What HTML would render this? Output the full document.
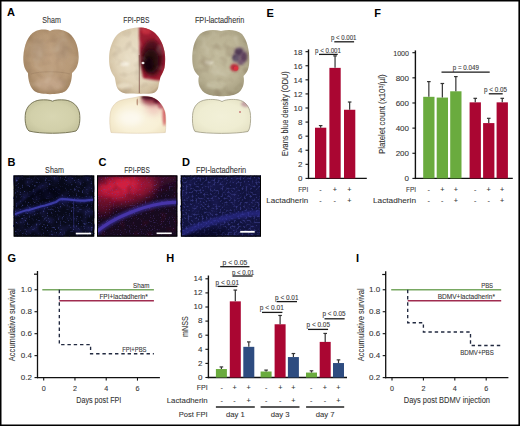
<!DOCTYPE html>
<html><head><meta charset="utf-8"><style>
html,body{margin:0;padding:0;background:#fff;overflow:hidden;width:520px;height:426px;}
svg{display:block;font-family:"Liberation Sans", sans-serif;}
</style></head><body>
<svg width="520" height="426" viewBox="0 0 520 426">
<defs><filter id="blur05" x="-100%" y="-100%" width="300%" height="300%"><feGaussianBlur stdDeviation="0.5"/></filter><filter id="blur1" x="-100%" y="-100%" width="300%" height="300%"><feGaussianBlur stdDeviation="1"/></filter><filter id="blur2" x="-100%" y="-100%" width="300%" height="300%"><feGaussianBlur stdDeviation="2"/></filter><filter id="blur3" x="-100%" y="-100%" width="300%" height="300%"><feGaussianBlur stdDeviation="3"/></filter><filter id="blur5" x="-100%" y="-100%" width="300%" height="300%"><feGaussianBlur stdDeviation="5"/></filter><filter id="texD" x="0" y="0" width="100%" height="100%" color-interpolation-filters="sRGB"><feTurbulence type="fractalNoise" baseFrequency="0.09" numOctaves="2" seed="21"/><feColorMatrix type="matrix" values="0 0 0 0 0.35 0 0 0 0 0.25 0 0 0 0 0.18 1.6 0 0 0 -0.82"/></filter><filter id="texL" x="0" y="0" width="100%" height="100%" color-interpolation-filters="sRGB"><feTurbulence type="fractalNoise" baseFrequency="0.09" numOctaves="2" seed="21"/><feColorMatrix type="matrix" values="0 0 0 0 1 0 0 0 0 1 0 0 0 0 0.95 -1.6 0 0 0 0.72"/></filter><radialGradient id="gsb" cx="0.5" cy="0.45" r="0.62"><stop offset="0" stop-color="#c0a282"/><stop offset="0.6" stop-color="#b89a78"/><stop offset="0.9" stop-color="#a48664"/><stop offset="1" stop-color="#8a6c50"/></radialGradient><clipPath id="csb"><path d="M50,31 C46,29 40,29 35,31.5 C28,35 24,45 23.3,57 C23,65 25,70 28,73 C28,80 30,88 35,91.5 C41,95 59,95 65,91.5 C70,88 72,80 72,73 C76,70 78.6,65 78.7,57 C78.5,45 74,35 66,31.5 C60,29 54,29 50,31 Z"/></clipPath><radialGradient id="gss" cx="0.5" cy="0.5" r="0.65"><stop offset="0" stop-color="#d8d6b2"/><stop offset="0.6" stop-color="#d2d0aa"/><stop offset="0.9" stop-color="#c4c29c"/><stop offset="1" stop-color="#aaa884"/></radialGradient><clipPath id="css"><path d="M52.5,101.2 C50,99.8 45,99.6 40,100 C32,101 27,106 25.5,113 C24.5,120 25.5,128 29,131 C40,134 65,134 76,131 C79.5,128 80.5,120 79.5,113 C78,106 73,101 65,100 C60,99.6 55,99.8 52.5,101.2 Z"/></clipPath><radialGradient id="gpb" cx="0.5" cy="0.45" r="0.62"><stop offset="0" stop-color="#ebe1ca"/><stop offset="0.6" stop-color="#e2d5ba"/><stop offset="0.9" stop-color="#cebc9c"/><stop offset="1" stop-color="#ae9676"/></radialGradient><clipPath id="cpb"><path d="M139.5,27.5 C134,27.5 125,29 119.2,33 C115,36 112,42 110,49.4 C108.8,54 108.8,63 110,67.7 C111,72 113,75 114.6,77 C115.5,80 115.8,84 116.5,86 C118,91 122,93.3 128,93.6 C135,94 145,94 151,93.6 C156,93 158,90 158.5,86 C159,83 159.8,80 160.4,77 C162,74 164,70 164.5,67.7 C165.5,62 165.5,54 164,49.4 C162.5,43 160,38 155,33 C151,29.5 145,27.5 139.5,27.5 Z"/></clipPath><radialGradient id="gps" cx="0.5" cy="0.6" r="0.65"><stop offset="0" stop-color="#faf4e0"/><stop offset="0.6" stop-color="#f8f0d6"/><stop offset="0.9" stop-color="#f0e4c4"/><stop offset="1" stop-color="#dccca8"/></radialGradient><clipPath id="cps"><path d="M111,132.5 C109.5,126 109.5,119 110.2,114 C111,108 114,103.5 119,101 C124,99 130,98.5 135,97.5 C140,96 146,95.8 151,97 C158,99 163,105 165,112 C166.3,118 166,126 165.3,132.5 C150,133.5 125,133.5 111,132.5 Z"/></clipPath><radialGradient id="glb" cx="0.5" cy="0.45" r="0.62"><stop offset="0" stop-color="#c4bd9f"/><stop offset="0.6" stop-color="#bab294"/><stop offset="0.9" stop-color="#a69e80"/><stop offset="1" stop-color="#867e62"/></radialGradient><clipPath id="clb"><path d="M221,31 C214,29 205,29.5 200,34 C194,40 192,50 192.3,60 C192.5,68 195,73 199,76 C197,83 200,91 207,94 C213,97 230,97 236,94 C243,91 245,83 243.5,76 C247,73 249.5,68 249.3,60 C249.5,50 247,40 242,34 C237,29.5 228,29 221,31 Z"/></clipPath><radialGradient id="gls" cx="0.5" cy="0.5" r="0.65"><stop offset="0" stop-color="#f2f0d8"/><stop offset="0.6" stop-color="#efedd2"/><stop offset="0.9" stop-color="#e6e3c6"/><stop offset="1" stop-color="#d0ccb0"/></radialGradient><clipPath id="cls"><path d="M222,101.6 C219,99.5 212,99 206,99.8 C198,101 194,106 192.8,113 C192,120 192.5,128 195,131.5 C207,134 236,134 248,131.5 C250.5,128 251,120 250.3,113 C249,106 245,101 238,99.8 C232,99 225,99.5 222,101.6 Z"/></clipPath><clipPath id="cB"><rect x="13.7" y="175.5" width="80.5" height="61.1"/></clipPath><filter id="nB" x="0" y="0" width="100%" height="100%" color-interpolation-filters="sRGB"><feTurbulence type="fractalNoise" baseFrequency="0.55" numOctaves="2" seed="3"/><feColorMatrix type="matrix" values="0 0 0 0 0.22 0 0 0 0 0.24 0 0 0 0 0.5 4 0 0 0 -2.4"/></filter><filter id="nB2" x="0" y="0" width="100%" height="100%" color-interpolation-filters="sRGB"><feTurbulence type="fractalNoise" baseFrequency="0.12" numOctaves="1" seed="5"/><feColorMatrix type="matrix" values="0 0 0 0 0.12 0 0 0 0 0.12 0 0 0 0 0.35 2 0 0 0 -0.9"/></filter><clipPath id="cC"><rect x="97.0" y="175.5" width="80.3" height="61.1"/></clipPath><filter id="nC" x="0" y="0" width="100%" height="100%" color-interpolation-filters="sRGB"><feTurbulence type="fractalNoise" baseFrequency="0.75" numOctaves="2" seed="9"/><feColorMatrix type="matrix" values="0 0 0 0 0.4 0 0 0 0 0.3 0 0 0 0 0.7 5 0 0 0 -3.0"/></filter><filter id="nC2" x="0" y="0" width="100%" height="100%" color-interpolation-filters="sRGB"><feTurbulence type="fractalNoise" baseFrequency="0.15" numOctaves="1" seed="4"/><feColorMatrix type="matrix" values="0 0 0 0 0.3 0 0 0 0 0.02 0 0 0 0 0.1 1.0 0 0 0 -0.5"/></filter><clipPath id="cD"><rect x="180.9" y="175.5" width="80.1" height="61.1"/></clipPath><filter id="nD" x="0" y="0" width="100%" height="100%" color-interpolation-filters="sRGB"><feTurbulence type="fractalNoise" baseFrequency="0.5" numOctaves="2" seed="11"/><feColorMatrix type="matrix" values="0 0 0 0 0.19 0 0 0 0 0.2 0 0 0 0 0.47 4 0 0 0 -1.95"/></filter><filter id="nD2" x="0" y="0" width="100%" height="100%" color-interpolation-filters="sRGB"><feTurbulence type="fractalNoise" baseFrequency="0.1" numOctaves="1" seed="2"/><feColorMatrix type="matrix" values="0 0 0 0 0.1 0 0 0 0 0.1 0 0 0 0 0.32 2 0 0 0 -0.8"/></filter></defs>
<rect x="0" y="0" width="520" height="426" fill="#fff"/>
<text x="7" y="16.3" font-size="11" text-anchor="start" fill="#000" font-weight="bold">A</text>
<text x="51.6" y="22.7" font-size="8.4" text-anchor="middle" fill="#333" font-weight="normal" textLength="18.6" lengthAdjust="spacingAndGlyphs" stroke="#333" stroke-width="0.08">Sham</text>
<text x="136.35" y="22.7" font-size="8.4" text-anchor="middle" fill="#333" font-weight="normal" textLength="26.1" lengthAdjust="spacingAndGlyphs" stroke="#333" stroke-width="0.08">FPI-PBS</text>
<text x="219.6" y="22.7" font-size="8.4" text-anchor="middle" fill="#333" font-weight="normal" textLength="49.4" lengthAdjust="spacingAndGlyphs" stroke="#333" stroke-width="0.08">FPI-lactadherin</text>
<path d="M50,31 C46,29 40,29 35,31.5 C28,35 24,45 23.3,57 C23,65 25,70 28,73 C28,80 30,88 35,91.5 C41,95 59,95 65,91.5 C70,88 72,80 72,73 C76,70 78.6,65 78.7,57 C78.5,45 74,35 66,31.5 C60,29 54,29 50,31 Z" fill="url(#gsb)" filter="url(#blur05)"/>
<g clip-path="url(#csb)">
<ellipse cx="50" cy="84" rx="15" ry="7" fill="#c8aa90" opacity="0.7" filter="url(#blur2)"/>
<ellipse cx="38" cy="50" rx="8" ry="12" fill="#a89078" opacity="0.4" filter="url(#blur2)"/>
<ellipse cx="62" cy="48" rx="8" ry="12" fill="#a89078" opacity="0.4" filter="url(#blur2)"/>
<line x1="49.8" y1="30" x2="49.8" y2="72" stroke="#7e624a" stroke-width="1.1" opacity="0.6" filter="url(#blur05)"/>
<path d="M31,74 C40,71 60,71 70,74" stroke="#8e7258" stroke-width="1" fill="none" opacity="0.3" filter="url(#blur05)"/>
</g>
<g clip-path="url(#csb)" opacity="0.25"><rect x="20" y="26" width="62" height="72" fill="#000" filter="url(#texD)"/><rect x="20" y="26" width="62" height="72" fill="#000" filter="url(#texL)"/></g>
<path d="M52.5,101.2 C50,99.8 45,99.6 40,100 C32,101 27,106 25.5,113 C24.5,120 25.5,128 29,131 C40,134 65,134 76,131 C79.5,128 80.5,120 79.5,113 C78,106 73,101 65,100 C60,99.6 55,99.8 52.5,101.2 Z" fill="url(#gss)" stroke="#6e6c4c" stroke-width="0.9" filter="url(#blur05)"/>
<path d="M139.5,27.5 C134,27.5 125,29 119.2,33 C115,36 112,42 110,49.4 C108.8,54 108.8,63 110,67.7 C111,72 113,75 114.6,77 C115.5,80 115.8,84 116.5,86 C118,91 122,93.3 128,93.6 C135,94 145,94 151,93.6 C156,93 158,90 158.5,86 C159,83 159.8,80 160.4,77 C162,74 164,70 164.5,67.7 C165.5,62 165.5,54 164,49.4 C162.5,43 160,38 155,33 C151,29.5 145,27.5 139.5,27.5 Z" fill="url(#gpb)" filter="url(#blur05)"/>
<g clip-path="url(#cpb)">
<path d="M139,26 C150,25 162,33 166,48 L167,80 C160,81 150,80 143,78 C140,62 139,42 139,26 Z" fill="#a01c30" filter="url(#blur1)"/>
<ellipse cx="152" cy="58" rx="11" ry="18" fill="#4a0e1a" opacity="0.95" filter="url(#blur2)"/>
<ellipse cx="151" cy="61" rx="8" ry="12" fill="#260810" opacity="1" filter="url(#blur2)"/>
<ellipse cx="149" cy="64" rx="5" ry="7" fill="#180408" opacity="0.9" filter="url(#blur1)"/>
<ellipse cx="146" cy="31" rx="5" ry="3.5" fill="#c83040" opacity="0.8" filter="url(#blur1)"/>
<line x1="139.3" y1="55" x2="139.3" y2="93" stroke="#5a2020" stroke-width="0.8" opacity="0.7"/>
<ellipse cx="125" cy="64" rx="4.5" ry="2.2" fill="#fffcf4" opacity="0.6" filter="url(#blur1)"/>
<ellipse cx="143" cy="63" rx="1.5" ry="1.2" fill="#ffffff" opacity="0.9" filter="url(#blur05)"/>
<ellipse cx="125" cy="86" rx="8" ry="3" fill="#f0e6d0" opacity="0.6" filter="url(#blur1)"/>
</g>
<g clip-path="url(#cpb)" opacity="0.25"><rect x="106" y="25" width="62" height="72" fill="#000" filter="url(#texD)"/><rect x="106" y="25" width="62" height="72" fill="#000" filter="url(#texL)"/></g>
<path d="M111,132.5 C109.5,126 109.5,119 110.2,114 C111,108 114,103.5 119,101 C124,99 130,98.5 135,97.5 C140,96 146,95.8 151,97 C158,99 163,105 165,112 C166.3,118 166,126 165.3,132.5 C150,133.5 125,133.5 111,132.5 Z" fill="url(#gps)" stroke="#d8c4a4" stroke-width="0.5" filter="url(#blur05)"/>
<g clip-path="url(#cps)">
<ellipse cx="154" cy="106" rx="9" ry="9" fill="#e8a8a8" opacity="0.5" filter="url(#blur3)"/>
<ellipse cx="152" cy="100" rx="11" ry="5" fill="#8a2038" opacity="0.8" filter="url(#blur2)"/>
<ellipse cx="149" cy="97" rx="8" ry="2.8" fill="#4a0c24" opacity="0.95" filter="url(#blur1)"/>
<ellipse cx="158" cy="100" rx="5" ry="3.5" fill="#5a1028" opacity="0.9" filter="url(#blur1)"/>
<ellipse cx="164.5" cy="114" rx="2" ry="12" fill="#c83040" opacity="0.7" filter="url(#blur1)"/>
<ellipse cx="161" cy="104" rx="3.5" ry="5" fill="#a02040" opacity="0.6" filter="url(#blur1)"/>
<ellipse cx="137.3" cy="102" rx="0.8" ry="3.5" fill="#8a4a30" opacity="0.5" filter="url(#blur05)"/>
<ellipse cx="130" cy="118" rx="12" ry="8" fill="#ffffff" opacity="0.5" filter="url(#blur3)"/>
</g>
<path d="M221,31 C214,29 205,29.5 200,34 C194,40 192,50 192.3,60 C192.5,68 195,73 199,76 C197,83 200,91 207,94 C213,97 230,97 236,94 C243,91 245,83 243.5,76 C247,73 249.5,68 249.3,60 C249.5,50 247,40 242,34 C237,29.5 228,29 221,31 Z" fill="url(#glb)" filter="url(#blur05)"/>
<g clip-path="url(#clb)">
<ellipse cx="240" cy="56" rx="7" ry="8" fill="#6a5068" opacity="0.7" filter="url(#blur2)"/>
<ellipse cx="239" cy="52" rx="4" ry="4" fill="#4a3050" opacity="0.9" filter="url(#blur1)"/>
<ellipse cx="243.5" cy="57" rx="3.5" ry="5" fill="#5a3a5a" opacity="0.85" filter="url(#blur1)"/>
<ellipse cx="236" cy="58" rx="3.5" ry="3.5" fill="#3a2848" opacity="0.85" filter="url(#blur1)"/>
<ellipse cx="241" cy="62" rx="3" ry="3" fill="#6a4a68" opacity="0.8" filter="url(#blur1)"/>
<ellipse cx="234.5" cy="67.5" rx="4.2" ry="3.8" fill="#b82838" opacity="0.95" filter="url(#blur1)"/>
<ellipse cx="236" cy="68.5" rx="2.2" ry="2.2" fill="#e03040" opacity="0.9" filter="url(#blur05)"/>
<line x1="221" y1="31" x2="221" y2="95" stroke="#8a8468" stroke-width="0.8" opacity="0.6" filter="url(#blur05)"/>
<ellipse cx="209" cy="62.5" rx="4.5" ry="2" fill="#f4f0e0" opacity="0.55" filter="url(#blur1)"/>
<ellipse cx="216" cy="85" rx="10" ry="4" fill="#c8c2a6" opacity="0.6" filter="url(#blur1)"/>
</g>
<g clip-path="url(#clb)" opacity="0.35"><rect x="189" y="26" width="64" height="72" fill="#000" filter="url(#texD)"/><rect x="189" y="26" width="64" height="72" fill="#000" filter="url(#texL)"/></g>
<path d="M222,101.6 C219,99.5 212,99 206,99.8 C198,101 194,106 192.8,113 C192,120 192.5,128 195,131.5 C207,134 236,134 248,131.5 C250.5,128 251,120 250.3,113 C249,106 245,101 238,99.8 C232,99 225,99.5 222,101.6 Z" fill="url(#gls)" stroke="#a09c84" stroke-width="0.8" filter="url(#blur05)"/>
<g clip-path="url(#cls)">
<ellipse cx="246" cy="104" rx="5" ry="3" fill="#a06080" opacity="0.5" filter="url(#blur1)"/>
<ellipse cx="240" cy="112" rx="1" ry="1" fill="#b03040" opacity="0.6" filter="url(#blur05)"/>
</g>
<text x="7.5" y="165.5" font-size="11" text-anchor="start" fill="#000" font-weight="bold">B</text>
<text x="98.5" y="165.5" font-size="11" text-anchor="start" fill="#000" font-weight="bold">C</text>
<text x="182" y="165.5" font-size="11" text-anchor="start" fill="#000" font-weight="bold">D</text>
<text x="54.5" y="172.5" font-size="8.4" text-anchor="middle" fill="#333" font-weight="normal" textLength="18.8" lengthAdjust="spacingAndGlyphs" stroke="#333" stroke-width="0.08">Sham</text>
<text x="137.05" y="172.5" font-size="8.4" text-anchor="middle" fill="#333" font-weight="normal" textLength="25.6" lengthAdjust="spacingAndGlyphs" stroke="#333" stroke-width="0.08">FPI-PBS</text>
<text x="221.05" y="172.5" font-size="8.4" text-anchor="middle" fill="#333" font-weight="normal" textLength="50.3" lengthAdjust="spacingAndGlyphs" stroke="#333" stroke-width="0.08">FPI-lactadherin</text>
<rect x="13.7" y="175.5" width="80.5" height="61.1" fill="#080a1a"/>
<rect x="13.7" y="175.5" width="80.5" height="61.1" fill="#000" filter="url(#nB2)"/>
<rect x="13.7" y="175.5" width="80.5" height="61.1" fill="#000" filter="url(#nB)"/>
<g clip-path="url(#cB)">
<path d="M13,215 C20,212 25,210.5 29,210 C35,208.5 40,206.5 45,205.5 C50,204 53,203 56,202 C58,200.5 59,199.5 61,199.2 C66,199 70,199.6 73,200 C77,200.6 80,201 84,200.6 C88,200.2 91,199.8 95,199.6" stroke="#282890" stroke-width="5" fill="none" opacity="0.5" filter="url(#blur1)"/>
<path d="M13,215 C20,212 25,210.5 29,210 C35,208.5 40,206.5 45,205.5 C50,204 53,203 56,202 C58,200.5 59,199.5 61,199.2 C66,199 70,199.6 73,200 C77,200.6 80,201 84,200.6 C88,200.2 91,199.8 95,199.6" stroke="#3c3ca8" stroke-width="2.2" fill="none" filter="url(#blur05)"/>
<path d="M16,205 C25,198 32,192 42,186" stroke="#303090" stroke-width="2" fill="none" opacity="0.4" filter="url(#blur1)"/>
<ellipse cx="45" cy="194" rx="18" ry="6" fill="#000008" opacity="0.6" filter="url(#blur3)" transform="rotate(-10 45 194)"/>
<path d="M73.5,201 C74,208 73,216 74,228" stroke="#34348a" stroke-width="1.2" fill="none" opacity="0.5" filter="url(#blur05)"/>
</g>
<rect x="75.8" y="232.7" width="15.4" height="1.7" fill="#fff"/>
<rect x="14.2" y="176.0" width="79.5" height="60.1" fill="none" stroke="#000" stroke-width="1"/>
<rect x="97.0" y="175.5" width="80.3" height="61.1" fill="#170a1e"/>
<g clip-path="url(#cC)">
<path d="M95,222 C100,205 115,195 135,192 C150,190 165,186 182,178 L182,172 L95,172 Z" fill="#3a0c2c" filter="url(#blur3)"/>
<ellipse cx="124" cy="189" rx="33" ry="15" fill="#a01434" opacity="0.95" filter="url(#blur5)" transform="rotate(-10 124 189)"/>
<ellipse cx="119" cy="187" rx="21" ry="9" fill="#cc1c3c" opacity="0.9" filter="url(#blur3)" transform="rotate(-10 119 187)"/>
<ellipse cx="124" cy="184" rx="12" ry="5" fill="#e02844" opacity="0.5" filter="url(#blur3)" transform="rotate(-12 124 184)"/>
<ellipse cx="104" cy="206" rx="8" ry="9" fill="#6a0c28" opacity="0.7" filter="url(#blur3)"/>
</g>
<rect x="97.0" y="175.5" width="80.3" height="61.1" fill="#000" filter="url(#nC2)"/>
<rect x="97.0" y="175.5" width="80.3" height="61.1" fill="#000" filter="url(#nC)" opacity="0.45"/>
<g clip-path="url(#cC)">
<path d="M95,233 C102,227 112,220 128,213.5 C140,208.5 152,205 162,203.5 C168,202.5 173,202.5 179,202" stroke="#3a30a0" stroke-width="7" fill="none" opacity="0.6" filter="url(#blur1)"/>
<path d="M95,233 C102,227 112,220 128,213.5 C140,208.5 152,205 162,203.5 C168,202.5 173,202.5 179,202" stroke="#4634a8" stroke-width="3.2" fill="none" filter="url(#blur05)"/>
</g>
<rect x="156.6" y="232.5" width="15.1" height="1.6" fill="#fff"/>
<rect x="97.5" y="176.0" width="79.3" height="60.1" fill="none" stroke="#000" stroke-width="1"/>
<rect x="180.9" y="175.5" width="80.1" height="61.1" fill="#10123c"/>
<rect x="180.9" y="175.5" width="80.1" height="61.1" fill="#000" filter="url(#nD2)"/>
<rect x="180.9" y="175.5" width="80.1" height="61.1" fill="#000" filter="url(#nD)"/>
<g clip-path="url(#cD)">
<ellipse cx="205" cy="234" rx="22" ry="4" fill="#040418" opacity="0.6" filter="url(#blur2)" transform="rotate(-8 205 234)"/>
<path d="M182,233.5 C195,227 205,223 226,218 C238,215 248,213 262,213" stroke="#3030a0" stroke-width="6" fill="none" opacity="0.55" filter="url(#blur1)"/>
</g>
<rect x="181.4" y="176.0" width="79.1" height="60.1" fill="none" stroke="#000" stroke-width="1"/>
<rect x="240.2" y="230.9" width="14.5" height="1.8" fill="#fff"/>
<text x="266.5" y="16.8" font-size="11" text-anchor="start" fill="#000" font-weight="bold">E</text>
<line x1="308.5" y1="49.4" x2="308.5" y2="179.1" stroke="#111" stroke-width="1.4"/>
<line x1="307.9" y1="178.4" x2="366.8" y2="178.4" stroke="#111" stroke-width="1.3"/>
<line x1="305.5" y1="178.4" x2="308.5" y2="178.4" stroke="#111" stroke-width="1.1"/>
<text x="302.4" y="181.3" font-size="8.0" text-anchor="end" fill="#333" font-weight="normal" stroke="#333" stroke-width="0.08">0</text>
<line x1="305.5" y1="164.32" x2="308.5" y2="164.32" stroke="#111" stroke-width="1.1"/>
<text x="302.4" y="167.22" font-size="8.0" text-anchor="end" fill="#333" font-weight="normal" stroke="#333" stroke-width="0.08">2</text>
<line x1="305.5" y1="150.24" x2="308.5" y2="150.24" stroke="#111" stroke-width="1.1"/>
<text x="302.4" y="153.14000000000001" font-size="8.0" text-anchor="end" fill="#333" font-weight="normal" stroke="#333" stroke-width="0.08">4</text>
<line x1="305.5" y1="136.16" x2="308.5" y2="136.16" stroke="#111" stroke-width="1.1"/>
<text x="302.4" y="139.06" font-size="8.0" text-anchor="end" fill="#333" font-weight="normal" stroke="#333" stroke-width="0.08">6</text>
<line x1="305.5" y1="122.08000000000001" x2="308.5" y2="122.08000000000001" stroke="#111" stroke-width="1.1"/>
<text x="302.4" y="124.98000000000002" font-size="8.0" text-anchor="end" fill="#333" font-weight="normal" stroke="#333" stroke-width="0.08">8</text>
<line x1="305.5" y1="108.0" x2="308.5" y2="108.0" stroke="#111" stroke-width="1.1"/>
<text x="302.4" y="110.9" font-size="8.0" text-anchor="end" fill="#333" font-weight="normal" stroke="#333" stroke-width="0.08">10</text>
<line x1="305.5" y1="93.92" x2="308.5" y2="93.92" stroke="#111" stroke-width="1.1"/>
<text x="302.4" y="96.82000000000001" font-size="8.0" text-anchor="end" fill="#333" font-weight="normal" stroke="#333" stroke-width="0.08">12</text>
<line x1="305.5" y1="79.84" x2="308.5" y2="79.84" stroke="#111" stroke-width="1.1"/>
<text x="302.4" y="82.74000000000001" font-size="8.0" text-anchor="end" fill="#333" font-weight="normal" stroke="#333" stroke-width="0.08">14</text>
<line x1="305.5" y1="65.76" x2="308.5" y2="65.76" stroke="#111" stroke-width="1.1"/>
<text x="302.4" y="68.66000000000001" font-size="8.0" text-anchor="end" fill="#333" font-weight="normal" stroke="#333" stroke-width="0.08">16</text>
<line x1="305.5" y1="51.68000000000001" x2="308.5" y2="51.68000000000001" stroke="#111" stroke-width="1.1"/>
<text x="302.4" y="54.580000000000005" font-size="8.0" text-anchor="end" fill="#333" font-weight="normal" stroke="#333" stroke-width="0.08">18</text>
<rect x="315.0" y="127.712" width="11.3" height="50.688" fill="#aa0632"/>
<line x1="320.65" y1="127.712" x2="320.65" y2="125.60000000000001" stroke="#333" stroke-width="1.2"/>
<line x1="318.84999999999997" y1="125.60000000000001" x2="322.45" y2="125.60000000000001" stroke="#333" stroke-width="1.2"/>
<rect x="329.4" y="67.87200000000001" width="11.3" height="110.52799999999999" fill="#aa0632"/>
<line x1="335.04999999999995" y1="67.87200000000001" x2="335.04999999999995" y2="55.90400000000001" stroke="#333" stroke-width="1.2"/>
<line x1="333.24999999999994" y1="55.90400000000001" x2="336.84999999999997" y2="55.90400000000001" stroke="#333" stroke-width="1.2"/>
<rect x="344.0" y="109.76" width="11.3" height="68.64" fill="#aa0632"/>
<line x1="349.65" y1="109.76" x2="349.65" y2="102.016" stroke="#333" stroke-width="1.2"/>
<line x1="347.84999999999997" y1="102.016" x2="351.45" y2="102.016" stroke="#333" stroke-width="1.2"/>
<text x="343.75" y="40.3" font-size="6.4" text-anchor="middle" fill="#3a3a3a" font-weight="normal" textLength="25.5" lengthAdjust="spacingAndGlyphs" stroke="#3a3a3a" stroke-width="0.1">p &lt; 0.001</text>
<line x1="334.3" y1="41.8" x2="354.1" y2="41.8" stroke="#1a1a1a" stroke-width="1.3"/>
<text x="328.0" y="53.3" font-size="6.4" text-anchor="middle" fill="#3a3a3a" font-weight="normal" textLength="26" lengthAdjust="spacingAndGlyphs" stroke="#3a3a3a" stroke-width="0.1">p &lt; 0.001</text>
<line x1="319" y1="54.4" x2="337.7" y2="54.4" stroke="#1a1a1a" stroke-width="1.3"/>
<text x="308.2" y="191.5" font-size="7.8" text-anchor="end" fill="#333" font-weight="normal" textLength="10" lengthAdjust="spacingAndGlyphs" stroke="#333" stroke-width="0.08">FPI</text>
<text x="308.2" y="203.2" font-size="7.8" text-anchor="end" fill="#333" font-weight="normal" textLength="41.9" lengthAdjust="spacingAndGlyphs" stroke="#333" stroke-width="0.08">Lactadherin</text>
<text x="320.4" y="191.5" font-size="7.2" text-anchor="middle" fill="#333" font-weight="normal" stroke="#333" stroke-width="0.08">-</text>
<text x="320.4" y="203.2" font-size="7.2" text-anchor="middle" fill="#333" font-weight="normal" stroke="#333" stroke-width="0.08">-</text>
<text x="334.8" y="191.5" font-size="7.2" text-anchor="middle" fill="#333" font-weight="normal" stroke="#333" stroke-width="0.08">+</text>
<text x="334.8" y="203.2" font-size="7.2" text-anchor="middle" fill="#333" font-weight="normal" stroke="#333" stroke-width="0.08">-</text>
<text x="349.4" y="191.5" font-size="7.2" text-anchor="middle" fill="#333" font-weight="normal" stroke="#333" stroke-width="0.08">+</text>
<text x="349.4" y="203.2" font-size="7.2" text-anchor="middle" fill="#333" font-weight="normal" stroke="#333" stroke-width="0.08">+</text>
<text x="0" y="0" font-size="8.2" text-anchor="middle" fill="#333" stroke="#333" stroke-width="0.08" textLength="84.8" lengthAdjust="spacingAndGlyphs" transform="translate(288,113.6) rotate(-90)">Evans blue density (ODU)</text>
<text x="374.3" y="16.7" font-size="11" text-anchor="start" fill="#000" font-weight="bold">F</text>
<line x1="415.4" y1="50.4" x2="415.4" y2="179.1" stroke="#111" stroke-width="1.4"/>
<line x1="414.79999999999995" y1="178.4" x2="512.8" y2="178.4" stroke="#111" stroke-width="1.3"/>
<line x1="412.4" y1="178.4" x2="415.4" y2="178.4" stroke="#111" stroke-width="1.1"/>
<text x="409.0" y="181.3" font-size="8.0" text-anchor="end" fill="#333" font-weight="normal" stroke="#333" stroke-width="0.08">0</text>
<line x1="412.4" y1="153.26" x2="415.4" y2="153.26" stroke="#111" stroke-width="1.1"/>
<text x="409.0" y="156.16" font-size="8.0" text-anchor="end" fill="#333" font-weight="normal" stroke="#333" stroke-width="0.08">200</text>
<line x1="412.4" y1="128.12" x2="415.4" y2="128.12" stroke="#111" stroke-width="1.1"/>
<text x="409.0" y="131.02" font-size="8.0" text-anchor="end" fill="#333" font-weight="normal" stroke="#333" stroke-width="0.08">400</text>
<line x1="412.4" y1="102.98" x2="415.4" y2="102.98" stroke="#111" stroke-width="1.1"/>
<text x="409.0" y="105.88000000000001" font-size="8.0" text-anchor="end" fill="#333" font-weight="normal" stroke="#333" stroke-width="0.08">600</text>
<line x1="412.4" y1="77.84" x2="415.4" y2="77.84" stroke="#111" stroke-width="1.1"/>
<text x="409.0" y="80.74000000000001" font-size="8.0" text-anchor="end" fill="#333" font-weight="normal" stroke="#333" stroke-width="0.08">800</text>
<line x1="412.4" y1="52.7" x2="415.4" y2="52.7" stroke="#111" stroke-width="1.1"/>
<text x="409.0" y="55.6" font-size="8.0" text-anchor="end" fill="#333" font-weight="normal" textLength="15.8" lengthAdjust="spacingAndGlyphs" stroke="#333" stroke-width="0.08">1000</text>
<rect x="423.2" y="96.8207" width="11.3" height="81.5793" fill="#6aab3e"/>
<line x1="428.84999999999997" y1="96.8207" x2="428.84999999999997" y2="81.611" stroke="#333" stroke-width="1.2"/>
<line x1="427.04999999999995" y1="81.611" x2="430.65" y2="81.611" stroke="#333" stroke-width="1.2"/>
<rect x="436.7" y="97.5749" width="11.3" height="80.8251" fill="#6aab3e"/>
<line x1="442.34999999999997" y1="97.5749" x2="442.34999999999997" y2="83.4965" stroke="#333" stroke-width="1.2"/>
<line x1="440.54999999999995" y1="83.4965" x2="444.15" y2="83.4965" stroke="#333" stroke-width="1.2"/>
<rect x="450.2" y="91.2899" width="11.3" height="87.1101" fill="#6aab3e"/>
<line x1="455.84999999999997" y1="91.2899" x2="455.84999999999997" y2="76.583" stroke="#333" stroke-width="1.2"/>
<line x1="454.04999999999995" y1="76.583" x2="457.65" y2="76.583" stroke="#333" stroke-width="1.2"/>
<rect x="469.6" y="102.3515" width="11.3" height="76.0485" fill="#aa0632"/>
<line x1="475.25" y1="102.3515" x2="475.25" y2="98.3291" stroke="#333" stroke-width="1.2"/>
<line x1="473.45" y1="98.3291" x2="477.05" y2="98.3291" stroke="#333" stroke-width="1.2"/>
<rect x="483.1" y="123.09200000000001" width="11.3" height="55.308" fill="#aa0632"/>
<line x1="488.75" y1="123.09200000000001" x2="488.75" y2="118.31540000000001" stroke="#333" stroke-width="1.2"/>
<line x1="486.95" y1="118.31540000000001" x2="490.55" y2="118.31540000000001" stroke="#333" stroke-width="1.2"/>
<rect x="496.6" y="102.3515" width="11.3" height="76.0485" fill="#aa0632"/>
<line x1="502.25" y1="102.3515" x2="502.25" y2="98.3291" stroke="#333" stroke-width="1.2"/>
<line x1="500.45" y1="98.3291" x2="504.05" y2="98.3291" stroke="#333" stroke-width="1.2"/>
<text x="465.9" y="70.3" font-size="6.4" text-anchor="middle" fill="#3a3a3a" font-weight="normal" textLength="26.2" lengthAdjust="spacingAndGlyphs" stroke="#3a3a3a" stroke-width="0.1">p = 0.049</text>
<line x1="441.5" y1="72.2" x2="489.7" y2="72.2" stroke="#1a1a1a" stroke-width="1.3"/>
<text x="495.5" y="91.6" font-size="6.4" text-anchor="middle" fill="#3a3a3a" font-weight="normal" textLength="23" lengthAdjust="spacingAndGlyphs" stroke="#3a3a3a" stroke-width="0.1">p &lt; 0.05</text>
<line x1="488.8" y1="93.8" x2="502.7" y2="93.8" stroke="#1a1a1a" stroke-width="1.3"/>
<text x="416" y="192" font-size="7.8" text-anchor="end" fill="#333" font-weight="normal" textLength="10" lengthAdjust="spacingAndGlyphs" stroke="#333" stroke-width="0.08">FPI</text>
<text x="416" y="203.4" font-size="7.8" text-anchor="end" fill="#333" font-weight="normal" textLength="43" lengthAdjust="spacingAndGlyphs" stroke="#333" stroke-width="0.08">Lactadherin</text>
<text x="428.8" y="192" font-size="7.2" text-anchor="middle" fill="#333" font-weight="normal" stroke="#333" stroke-width="0.08">-</text>
<text x="428.8" y="203.4" font-size="7.2" text-anchor="middle" fill="#333" font-weight="normal" stroke="#333" stroke-width="0.08">-</text>
<text x="442.3" y="192" font-size="7.2" text-anchor="middle" fill="#333" font-weight="normal" stroke="#333" stroke-width="0.08">+</text>
<text x="442.3" y="203.4" font-size="7.2" text-anchor="middle" fill="#333" font-weight="normal" stroke="#333" stroke-width="0.08">-</text>
<text x="455.8" y="192" font-size="7.2" text-anchor="middle" fill="#333" font-weight="normal" stroke="#333" stroke-width="0.08">+</text>
<text x="455.8" y="203.4" font-size="7.2" text-anchor="middle" fill="#333" font-weight="normal" stroke="#333" stroke-width="0.08">+</text>
<text x="475.2" y="192" font-size="7.2" text-anchor="middle" fill="#333" font-weight="normal" stroke="#333" stroke-width="0.08">-</text>
<text x="475.2" y="203.4" font-size="7.2" text-anchor="middle" fill="#333" font-weight="normal" stroke="#333" stroke-width="0.08">-</text>
<text x="488.7" y="192" font-size="7.2" text-anchor="middle" fill="#333" font-weight="normal" stroke="#333" stroke-width="0.08">+</text>
<text x="488.7" y="203.4" font-size="7.2" text-anchor="middle" fill="#333" font-weight="normal" stroke="#333" stroke-width="0.08">-</text>
<text x="502.2" y="192" font-size="7.2" text-anchor="middle" fill="#333" font-weight="normal" stroke="#333" stroke-width="0.08">+</text>
<text x="502.2" y="203.4" font-size="7.2" text-anchor="middle" fill="#333" font-weight="normal" stroke="#333" stroke-width="0.08">+</text>
<text x="0" y="0" font-size="8.2" text-anchor="middle" fill="#333" stroke="#333" stroke-width="0.08" textLength="79.6" lengthAdjust="spacingAndGlyphs" transform="translate(385.3,114.2) rotate(-90)">Platelet count (x10<tspan font-size="5.5" dy="-2.5">3</tspan><tspan dy="2.5">/µl)</tspan></text>
<text x="7.4" y="261.6" font-size="11" text-anchor="start" fill="#000" font-weight="bold">G</text>
<line x1="37.5" y1="271.0" x2="37.5" y2="378.20000000000005" stroke="#111" stroke-width="1.3"/>
<line x1="36.9" y1="377.6" x2="159.9" y2="377.6" stroke="#111" stroke-width="1.3"/>
<line x1="34.5" y1="377.6" x2="37.5" y2="377.6" stroke="#111" stroke-width="1.1"/>
<text x="31.9" y="380.20000000000005" font-size="8.0" text-anchor="end" fill="#333" font-weight="normal" stroke="#333" stroke-width="0.08">0.2</text>
<line x1="34.5" y1="355.64000000000004" x2="37.5" y2="355.64000000000004" stroke="#111" stroke-width="1.1"/>
<text x="31.9" y="358.24000000000007" font-size="8.0" text-anchor="end" fill="#333" font-weight="normal" stroke="#333" stroke-width="0.08">0.4</text>
<line x1="34.5" y1="333.68" x2="37.5" y2="333.68" stroke="#111" stroke-width="1.1"/>
<text x="31.9" y="336.28000000000003" font-size="8.0" text-anchor="end" fill="#333" font-weight="normal" stroke="#333" stroke-width="0.08">0.6</text>
<line x1="34.5" y1="311.72" x2="37.5" y2="311.72" stroke="#111" stroke-width="1.1"/>
<text x="31.9" y="314.32000000000005" font-size="8.0" text-anchor="end" fill="#333" font-weight="normal" stroke="#333" stroke-width="0.08">0.8</text>
<line x1="34.5" y1="289.76" x2="37.5" y2="289.76" stroke="#111" stroke-width="1.1"/>
<text x="31.9" y="292.36" font-size="8.0" text-anchor="end" fill="#333" font-weight="normal" stroke="#333" stroke-width="0.08">1.0</text>
<line x1="34.0" y1="274.2" x2="37.5" y2="274.2" stroke="#111" stroke-width="1.2"/>
<line x1="43.7" y1="377.6" x2="43.7" y2="380.6" stroke="#111" stroke-width="1.1"/>
<text x="43.7" y="390.8" font-size="7.2" text-anchor="middle" fill="#333" font-weight="normal" stroke="#333" stroke-width="0.08">0</text>
<line x1="74.96000000000001" y1="377.6" x2="74.96000000000001" y2="380.6" stroke="#111" stroke-width="1.1"/>
<text x="74.96000000000001" y="390.8" font-size="7.2" text-anchor="middle" fill="#333" font-weight="normal" stroke="#333" stroke-width="0.08">2</text>
<line x1="106.22" y1="377.6" x2="106.22" y2="380.6" stroke="#111" stroke-width="1.1"/>
<text x="106.22" y="390.8" font-size="7.2" text-anchor="middle" fill="#333" font-weight="normal" stroke="#333" stroke-width="0.08">4</text>
<line x1="137.48000000000002" y1="377.6" x2="137.48000000000002" y2="380.6" stroke="#111" stroke-width="1.1"/>
<text x="137.48000000000002" y="390.8" font-size="7.2" text-anchor="middle" fill="#333" font-weight="normal" stroke="#333" stroke-width="0.08">6</text>
<line x1="42.3" y1="289.76" x2="153.9" y2="289.76" stroke="#78a862" stroke-width="1.7"/>
<line x1="59.330000000000005" y1="300.74" x2="153.9" y2="300.74" stroke="#a02c50" stroke-width="1.6"/>
<path d="M59.33,289.76 L59.33,289.76 L59.33,344.66 L90.59,344.66 L90.59,353.77 L153.90,353.77" stroke="#222a40" stroke-width="1.35" fill="none" stroke-dasharray="3.4,2.9"/>
<text x="141.25" y="287.7" font-size="6.8" text-anchor="middle" fill="#333" font-weight="normal" textLength="16.3" lengthAdjust="spacingAndGlyphs" stroke="#333" stroke-width="0.08">Sham</text>
<text x="123.60000000000001" y="298.6" font-size="6.8" text-anchor="middle" fill="#333" font-weight="normal" textLength="48.4" lengthAdjust="spacingAndGlyphs" stroke="#333" stroke-width="0.08">FPI+lactadherin*</text>
<text x="134.35" y="351.9" font-size="6.8" text-anchor="middle" fill="#333" font-weight="normal" textLength="24.3" lengthAdjust="spacingAndGlyphs" stroke="#333" stroke-width="0.08">FPI+PBS</text>
<text x="98.8" y="402.6" font-size="8.8" text-anchor="middle" fill="#333" font-weight="normal" textLength="45.0" lengthAdjust="spacingAndGlyphs" stroke="#333" stroke-width="0.08">Days post FPI</text>
<text x="0" y="0" font-size="8.2" text-anchor="middle" fill="#333" stroke="#333" stroke-width="0.08" textLength="72.9" lengthAdjust="spacingAndGlyphs" transform="translate(15,324.8) rotate(-90)">Accumulative survival</text>
<text x="356.0" y="261.8" font-size="11" text-anchor="start" fill="#000" font-weight="bold">I</text>
<line x1="385.7" y1="271.3" x2="385.7" y2="378.20000000000005" stroke="#111" stroke-width="1.3"/>
<line x1="385.09999999999997" y1="377.6" x2="508.4" y2="377.6" stroke="#111" stroke-width="1.3"/>
<line x1="382.7" y1="377.6" x2="385.7" y2="377.6" stroke="#111" stroke-width="1.1"/>
<text x="380.09999999999997" y="380.20000000000005" font-size="8.0" text-anchor="end" fill="#333" font-weight="normal" stroke="#333" stroke-width="0.08">0.2</text>
<line x1="382.7" y1="355.64000000000004" x2="385.7" y2="355.64000000000004" stroke="#111" stroke-width="1.1"/>
<text x="380.09999999999997" y="358.24000000000007" font-size="8.0" text-anchor="end" fill="#333" font-weight="normal" stroke="#333" stroke-width="0.08">0.4</text>
<line x1="382.7" y1="333.68" x2="385.7" y2="333.68" stroke="#111" stroke-width="1.1"/>
<text x="380.09999999999997" y="336.28000000000003" font-size="8.0" text-anchor="end" fill="#333" font-weight="normal" stroke="#333" stroke-width="0.08">0.6</text>
<line x1="382.7" y1="311.72" x2="385.7" y2="311.72" stroke="#111" stroke-width="1.1"/>
<text x="380.09999999999997" y="314.32000000000005" font-size="8.0" text-anchor="end" fill="#333" font-weight="normal" stroke="#333" stroke-width="0.08">0.8</text>
<line x1="382.7" y1="289.76" x2="385.7" y2="289.76" stroke="#111" stroke-width="1.1"/>
<text x="380.09999999999997" y="292.36" font-size="8.0" text-anchor="end" fill="#333" font-weight="normal" stroke="#333" stroke-width="0.08">1.0</text>
<line x1="382.2" y1="274.5" x2="385.7" y2="274.5" stroke="#111" stroke-width="1.2"/>
<line x1="392.0" y1="377.6" x2="392.0" y2="380.6" stroke="#111" stroke-width="1.1"/>
<text x="392.0" y="390.8" font-size="7.2" text-anchor="middle" fill="#333" font-weight="normal" stroke="#333" stroke-width="0.08">0</text>
<line x1="423.4" y1="377.6" x2="423.4" y2="380.6" stroke="#111" stroke-width="1.1"/>
<text x="423.4" y="390.8" font-size="7.2" text-anchor="middle" fill="#333" font-weight="normal" stroke="#333" stroke-width="0.08">2</text>
<line x1="454.8" y1="377.6" x2="454.8" y2="380.6" stroke="#111" stroke-width="1.1"/>
<text x="454.8" y="390.8" font-size="7.2" text-anchor="middle" fill="#333" font-weight="normal" stroke="#333" stroke-width="0.08">4</text>
<line x1="486.2" y1="377.6" x2="486.2" y2="380.6" stroke="#111" stroke-width="1.1"/>
<text x="486.2" y="390.8" font-size="7.2" text-anchor="middle" fill="#333" font-weight="normal" stroke="#333" stroke-width="0.08">6</text>
<line x1="391.2" y1="289.76" x2="501.2" y2="289.76" stroke="#78a862" stroke-width="1.7"/>
<line x1="407.7" y1="300.74" x2="501.2" y2="300.74" stroke="#a02c50" stroke-width="1.6"/>
<path d="M407.70,289.76 L407.70,289.76 L407.70,322.70 L423.40,322.70 L423.40,332.03 L470.50,332.03 L470.50,345.54 L501.20,345.54" stroke="#222a40" stroke-width="1.35" fill="none" stroke-dasharray="3.4,2.9"/>
<text x="487.15" y="288.1" font-size="6.8" text-anchor="middle" fill="#333" font-weight="normal" textLength="11.9" lengthAdjust="spacingAndGlyphs" stroke="#333" stroke-width="0.08">PBS</text>
<text x="466.35" y="298.8" font-size="6.8" text-anchor="middle" fill="#333" font-weight="normal" textLength="57.3" lengthAdjust="spacingAndGlyphs" stroke="#333" stroke-width="0.08">BDMV+lactadherin*</text>
<text x="477.0" y="355.2" font-size="6.8" text-anchor="middle" fill="#333" font-weight="normal" textLength="33.6" lengthAdjust="spacingAndGlyphs" stroke="#333" stroke-width="0.08">BDMV+PBS</text>
<text x="446.9" y="403.2" font-size="8.8" text-anchor="middle" fill="#333" font-weight="normal" textLength="86.2" lengthAdjust="spacingAndGlyphs" stroke="#333" stroke-width="0.08">Days post BDMV injection</text>
<text x="0" y="0" font-size="8.2" text-anchor="middle" fill="#333" stroke="#333" stroke-width="0.08" textLength="72.9" lengthAdjust="spacingAndGlyphs" transform="translate(364.4,324.8) rotate(-90)">Accumulative survival</text>
<text x="166.3" y="261.8" font-size="11" text-anchor="start" fill="#000" font-weight="bold">H</text>
<line x1="208.4" y1="275.5" x2="208.4" y2="378.2" stroke="#111" stroke-width="1.4"/>
<line x1="207.8" y1="377.5" x2="347" y2="377.5" stroke="#111" stroke-width="1.3"/>
<line x1="205.4" y1="377.5" x2="208.4" y2="377.5" stroke="#111" stroke-width="1.1"/>
<text x="202.4" y="379.8" font-size="8.0" text-anchor="end" fill="#333" font-weight="normal" stroke="#333" stroke-width="0.08">0</text>
<line x1="205.4" y1="363.4" x2="208.4" y2="363.4" stroke="#111" stroke-width="1.1"/>
<text x="202.4" y="365.7" font-size="8.0" text-anchor="end" fill="#333" font-weight="normal" stroke="#333" stroke-width="0.08">2</text>
<line x1="205.4" y1="349.3" x2="208.4" y2="349.3" stroke="#111" stroke-width="1.1"/>
<text x="202.4" y="351.6" font-size="8.0" text-anchor="end" fill="#333" font-weight="normal" stroke="#333" stroke-width="0.08">4</text>
<line x1="205.4" y1="335.2" x2="208.4" y2="335.2" stroke="#111" stroke-width="1.1"/>
<text x="202.4" y="337.5" font-size="8.0" text-anchor="end" fill="#333" font-weight="normal" stroke="#333" stroke-width="0.08">6</text>
<line x1="205.4" y1="321.1" x2="208.4" y2="321.1" stroke="#111" stroke-width="1.1"/>
<text x="202.4" y="323.40000000000003" font-size="8.0" text-anchor="end" fill="#333" font-weight="normal" stroke="#333" stroke-width="0.08">8</text>
<line x1="205.4" y1="307.0" x2="208.4" y2="307.0" stroke="#111" stroke-width="1.1"/>
<text x="202.4" y="309.3" font-size="8.0" text-anchor="end" fill="#333" font-weight="normal" stroke="#333" stroke-width="0.08">10</text>
<line x1="205.4" y1="292.9" x2="208.4" y2="292.9" stroke="#111" stroke-width="1.1"/>
<text x="202.4" y="295.2" font-size="8.0" text-anchor="end" fill="#333" font-weight="normal" stroke="#333" stroke-width="0.08">12</text>
<line x1="205.4" y1="278.8" x2="208.4" y2="278.8" stroke="#111" stroke-width="1.1"/>
<text x="202.4" y="281.1" font-size="8.0" text-anchor="end" fill="#333" font-weight="normal" stroke="#333" stroke-width="0.08">14</text>
<rect x="215.9" y="369.04" width="11" height="8.459999999999999" fill="#6aab3e"/>
<line x1="221.4" y1="369.04" x2="221.4" y2="366.925" stroke="#333" stroke-width="1.2"/>
<line x1="219.6" y1="366.925" x2="223.20000000000002" y2="366.925" stroke="#333" stroke-width="1.2"/>
<rect x="229.8" y="301.36" width="11" height="76.14" fill="#aa0632"/>
<line x1="235.3" y1="301.36" x2="235.3" y2="290.08" stroke="#333" stroke-width="1.2"/>
<line x1="233.5" y1="290.08" x2="237.10000000000002" y2="290.08" stroke="#333" stroke-width="1.2"/>
<rect x="243.3" y="346.8325" width="11" height="30.667499999999997" fill="#2e4c80"/>
<line x1="248.8" y1="346.8325" x2="248.8" y2="341.8975" stroke="#333" stroke-width="1.2"/>
<line x1="247.0" y1="341.8975" x2="250.60000000000002" y2="341.8975" stroke="#333" stroke-width="1.2"/>
<rect x="260.6" y="371.5075" width="11" height="5.9925" fill="#6aab3e"/>
<line x1="266.1" y1="371.5075" x2="266.1" y2="370.0975" stroke="#333" stroke-width="1.2"/>
<line x1="264.3" y1="370.0975" x2="267.90000000000003" y2="370.0975" stroke="#333" stroke-width="1.2"/>
<rect x="274.6" y="324.2725" width="11" height="53.2275" fill="#aa0632"/>
<line x1="280.1" y1="324.2725" x2="280.1" y2="315.46" stroke="#333" stroke-width="1.2"/>
<line x1="278.3" y1="315.46" x2="281.90000000000003" y2="315.46" stroke="#333" stroke-width="1.2"/>
<rect x="287.9" y="357.055" width="11" height="20.445" fill="#2e4c80"/>
<line x1="293.4" y1="357.055" x2="293.4" y2="353.53" stroke="#333" stroke-width="1.2"/>
<line x1="291.59999999999997" y1="353.53" x2="295.2" y2="353.53" stroke="#333" stroke-width="1.2"/>
<rect x="306.0" y="372.565" width="11" height="4.935" fill="#6aab3e"/>
<line x1="311.5" y1="372.565" x2="311.5" y2="370.8025" stroke="#333" stroke-width="1.2"/>
<line x1="309.7" y1="370.8025" x2="313.3" y2="370.8025" stroke="#333" stroke-width="1.2"/>
<rect x="319.7" y="341.8975" width="11" height="35.6025" fill="#aa0632"/>
<line x1="325.2" y1="341.8975" x2="325.2" y2="333.4375" stroke="#333" stroke-width="1.2"/>
<line x1="323.4" y1="333.4375" x2="327.0" y2="333.4375" stroke="#333" stroke-width="1.2"/>
<rect x="333.0" y="363.0475" width="11" height="14.452499999999999" fill="#2e4c80"/>
<line x1="338.5" y1="363.0475" x2="338.5" y2="359.875" stroke="#333" stroke-width="1.2"/>
<line x1="336.7" y1="359.875" x2="340.3" y2="359.875" stroke="#333" stroke-width="1.2"/>
<text x="234.85" y="264.8" font-size="6.4" text-anchor="middle" fill="#3a3a3a" font-weight="normal" textLength="24.7" lengthAdjust="spacingAndGlyphs" stroke="#3a3a3a" stroke-width="0.1">p &lt; 0.05</text>
<line x1="220.2" y1="266.7" x2="249.5" y2="266.7" stroke="#1a1a1a" stroke-width="1.3"/>
<text x="243.05" y="274.9" font-size="6.4" text-anchor="middle" fill="#3a3a3a" font-weight="normal" textLength="22.3" lengthAdjust="spacingAndGlyphs" stroke="#3a3a3a" stroke-width="0.1">p &lt; 0.01</text>
<line x1="233.0" y1="276.0" x2="252.6" y2="276.0" stroke="#1a1a1a" stroke-width="1.3"/>
<text x="227.25" y="284.5" font-size="6.4" text-anchor="middle" fill="#3a3a3a" font-weight="normal" textLength="23.5" lengthAdjust="spacingAndGlyphs" stroke="#3a3a3a" stroke-width="0.1">p &lt; 0.01</text>
<line x1="217.5" y1="286.4" x2="237.4" y2="286.4" stroke="#1a1a1a" stroke-width="1.3"/>
<text x="286.75" y="299.6" font-size="6.4" text-anchor="middle" fill="#3a3a3a" font-weight="normal" textLength="23.5" lengthAdjust="spacingAndGlyphs" stroke="#3a3a3a" stroke-width="0.1">p &lt; 0.01</text>
<line x1="276.6" y1="301.6" x2="297" y2="301.6" stroke="#1a1a1a" stroke-width="1.3"/>
<text x="271.8" y="310" font-size="6.4" text-anchor="middle" fill="#3a3a3a" font-weight="normal" textLength="24.0" lengthAdjust="spacingAndGlyphs" stroke="#3a3a3a" stroke-width="0.1">p &lt; 0.01</text>
<line x1="262" y1="312.4" x2="282.4" y2="312.4" stroke="#1a1a1a" stroke-width="1.3"/>
<text x="333.95" y="316.3" font-size="6.4" text-anchor="middle" fill="#3a3a3a" font-weight="normal" textLength="23.1" lengthAdjust="spacingAndGlyphs" stroke="#3a3a3a" stroke-width="0.1">p &lt; 0.05</text>
<line x1="324.5" y1="318.8" x2="344.6" y2="318.8" stroke="#1a1a1a" stroke-width="1.3"/>
<text x="318.3" y="327.4" font-size="6.4" text-anchor="middle" fill="#3a3a3a" font-weight="normal" textLength="23.4" lengthAdjust="spacingAndGlyphs" stroke="#3a3a3a" stroke-width="0.1">p &lt; 0.05</text>
<line x1="308" y1="329.4" x2="328.1" y2="329.4" stroke="#1a1a1a" stroke-width="1.3"/>
<text x="207.7" y="390.4" font-size="7.8" text-anchor="end" fill="#333" font-weight="normal" textLength="11" lengthAdjust="spacingAndGlyphs" stroke="#333" stroke-width="0.08">FPI</text>
<text x="207.7" y="402.6" font-size="7.8" text-anchor="end" fill="#333" font-weight="normal" textLength="41" lengthAdjust="spacingAndGlyphs" stroke="#333" stroke-width="0.08">Lactadherin</text>
<text x="207.7" y="416.5" font-size="7.8" text-anchor="end" fill="#333" font-weight="normal" textLength="28.9" lengthAdjust="spacingAndGlyphs" stroke="#333" stroke-width="0.08">Post FPI</text>
<text x="221.6" y="390.4" font-size="7.2" text-anchor="middle" fill="#333" font-weight="normal" stroke="#333" stroke-width="0.08">-</text>
<text x="221.6" y="402.6" font-size="7.2" text-anchor="middle" fill="#333" font-weight="normal" stroke="#333" stroke-width="0.08">-</text>
<text x="234.5" y="390.4" font-size="7.2" text-anchor="middle" fill="#333" font-weight="normal" stroke="#333" stroke-width="0.08">+</text>
<text x="234.5" y="402.6" font-size="7.2" text-anchor="middle" fill="#333" font-weight="normal" stroke="#333" stroke-width="0.08">-</text>
<text x="248.5" y="390.4" font-size="7.2" text-anchor="middle" fill="#333" font-weight="normal" stroke="#333" stroke-width="0.08">+</text>
<text x="248.5" y="402.6" font-size="7.2" text-anchor="middle" fill="#333" font-weight="normal" stroke="#333" stroke-width="0.08">+</text>
<text x="266.3" y="390.4" font-size="7.2" text-anchor="middle" fill="#333" font-weight="normal" stroke="#333" stroke-width="0.08">-</text>
<text x="266.3" y="402.6" font-size="7.2" text-anchor="middle" fill="#333" font-weight="normal" stroke="#333" stroke-width="0.08">-</text>
<text x="280.3" y="390.4" font-size="7.2" text-anchor="middle" fill="#333" font-weight="normal" stroke="#333" stroke-width="0.08">+</text>
<text x="280.3" y="402.6" font-size="7.2" text-anchor="middle" fill="#333" font-weight="normal" stroke="#333" stroke-width="0.08">-</text>
<text x="293.4" y="390.4" font-size="7.2" text-anchor="middle" fill="#333" font-weight="normal" stroke="#333" stroke-width="0.08">+</text>
<text x="293.4" y="402.6" font-size="7.2" text-anchor="middle" fill="#333" font-weight="normal" stroke="#333" stroke-width="0.08">+</text>
<text x="311.3" y="390.4" font-size="7.2" text-anchor="middle" fill="#333" font-weight="normal" stroke="#333" stroke-width="0.08">-</text>
<text x="311.3" y="402.6" font-size="7.2" text-anchor="middle" fill="#333" font-weight="normal" stroke="#333" stroke-width="0.08">-</text>
<text x="324.9" y="390.4" font-size="7.2" text-anchor="middle" fill="#333" font-weight="normal" stroke="#333" stroke-width="0.08">+</text>
<text x="324.9" y="402.6" font-size="7.2" text-anchor="middle" fill="#333" font-weight="normal" stroke="#333" stroke-width="0.08">-</text>
<text x="338.3" y="390.4" font-size="7.2" text-anchor="middle" fill="#333" font-weight="normal" stroke="#333" stroke-width="0.08">+</text>
<text x="338.3" y="402.6" font-size="7.2" text-anchor="middle" fill="#333" font-weight="normal" stroke="#333" stroke-width="0.08">+</text>
<line x1="215.9" y1="406.9" x2="254.8" y2="406.9" stroke="#222" stroke-width="1.5"/>
<text x="235.35000000000002" y="416.8" font-size="7.8" text-anchor="middle" fill="#333" font-weight="normal" textLength="18.8" lengthAdjust="spacingAndGlyphs" stroke="#333" stroke-width="0.08">day 1</text>
<line x1="260.6" y1="406.9" x2="299.5" y2="406.9" stroke="#222" stroke-width="1.5"/>
<text x="280.05" y="416.8" font-size="7.8" text-anchor="middle" fill="#333" font-weight="normal" textLength="18.8" lengthAdjust="spacingAndGlyphs" stroke="#333" stroke-width="0.08">day 3</text>
<line x1="306.1" y1="406.9" x2="344.2" y2="406.9" stroke="#222" stroke-width="1.5"/>
<text x="325.15" y="416.8" font-size="7.8" text-anchor="middle" fill="#333" font-weight="normal" textLength="18.8" lengthAdjust="spacingAndGlyphs" stroke="#333" stroke-width="0.08">day 7</text>
<text x="0" y="0" font-size="8.2" text-anchor="middle" fill="#333" stroke="#333" stroke-width="0.08" textLength="20.7" lengthAdjust="spacingAndGlyphs" transform="translate(187.7,326.6) rotate(-90)">mNSS</text>
<rect x="0" y="0" width="1.5" height="426" fill="#000"/>
<rect x="0" y="0" width="520" height="1.5" fill="#000"/>
<rect x="518.4" y="0" width="1.6" height="426" fill="#000"/>
<rect x="0" y="424.5" width="520" height="1.5" fill="#000"/>
</svg></body></html>
